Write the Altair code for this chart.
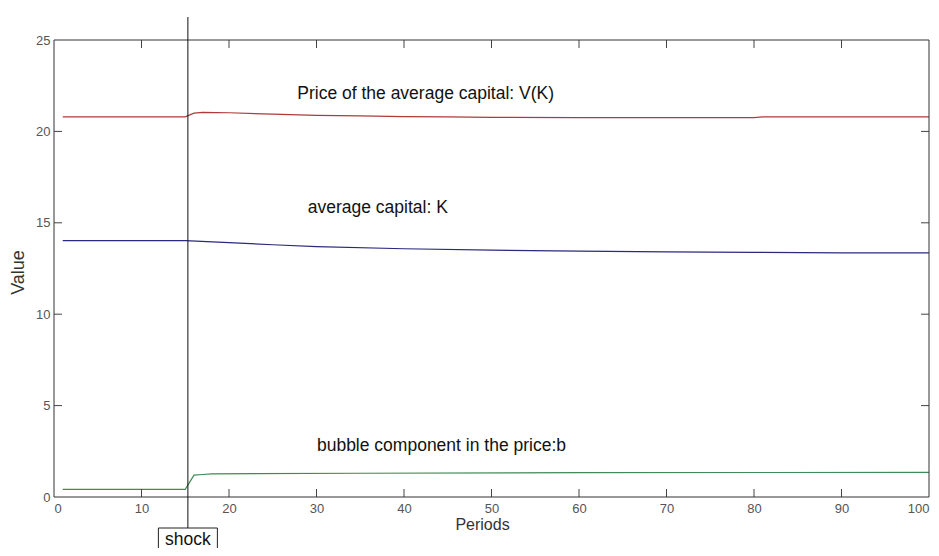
import altair as alt
import pandas as pd

# ---- data ----
red_x = [1, 15, 16, 17, 20, 25, 30, 35, 40, 45, 50, 60, 70, 80, 81, 90, 100]
red_y = [20.80, 20.80, 21.00, 21.04, 21.02, 20.94, 20.88, 20.85, 20.81, 20.79, 20.77, 20.75, 20.75, 20.75, 20.79, 20.79, 20.79]

blue_x = [1, 15, 20, 25, 30, 40, 50, 60, 70, 80, 90, 100]
blue_y = [14.02, 14.02, 13.92, 13.80, 13.70, 13.58, 13.50, 13.45, 13.41, 13.38, 13.36, 13.35]

green_x = [1, 15, 16, 17, 18, 35, 60, 100]
green_y = [0.42, 0.42, 1.20, 1.23, 1.27, 1.30, 1.33, 1.35]

series_names = ["V(K)", "K", "b"]
series_colors = ["#b03a3a", "#2a2a7e", "#3f8a55"]

x_ticks = [10, 20, 30, 40, 50, 60, 70, 80, 90]
y_ticks = [5, 10, 15, 20]
x_labels = [0, 10, 20, 30, 40, 50, 60, 70, 80, 90, 100]
y_labels = [0, 5, 10, 15, 20, 25]

shock_x = [15.3]

ann_text = ["Price of the average capital: V(K)", "average capital: K", "bubble component in the price:b"]
ann_x = [27.8, 29.0, 30.05]
ann_y = [21.77, 15.52, 2.53]

W, H = 875, 457
FONT = "Liberation Sans"

rows = []
for name, xs, ys in zip(series_names, [red_x, blue_x, green_x], [red_y, blue_y, green_y]):
    for xv, yv in zip(xs, ys):
        rows.append({"series": name, "period": xv, "value": yv})
lines_df = pd.DataFrame(rows)

xscale = alt.Scale(domain=[0, 100], nice=False, zero=False)
yscale = alt.Scale(domain=[0, 25], nice=False)

xaxis = alt.Axis(values=x_labels, ticks=False, domain=False, grid=False,
                 labelPadding=5, labelFontSize=13, labelColor="#555555", labelFont=FONT,
                 title="Periods", titleFont=FONT, titleFontSize=16, titleFontWeight="normal",
                 titleColor="#333333", titleX=428, titleY=27, titleBaseline="middle", titleAlign="center")
yaxis = alt.Axis(values=y_labels, ticks=False, domain=False, grid=False,
                 labelPadding=4, labelFontSize=13, labelColor="#555555", labelFont=FONT,
                 title="Value", titleFont=FONT, titleFontSize=18, titleFontWeight="normal",
                 titleColor="#333333", titleX=-36, titleY=232, titleBaseline="middle", titleAlign="center",
                 titleAngle=270)

lines = alt.Chart(lines_df).mark_line(strokeWidth=1.2).encode(
    x=alt.X("period:Q", scale=xscale, axis=xaxis),
    y=alt.Y("value:Q", scale=yscale, axis=yaxis),
    color=alt.Color("series:N", scale=alt.Scale(domain=series_names, range=series_colors), legend=None),
)

xt = pd.DataFrame({"t": x_ticks})
yt = pd.DataFrame({"t": y_ticks})
tick_color = "#444444"
bottom_ticks = alt.Chart(xt).mark_rule(color=tick_color, strokeWidth=1).encode(
    x=alt.X("t:Q", scale=xscale), y=alt.value(H), y2=alt.value(H - 8))
top_ticks = alt.Chart(xt).mark_rule(color=tick_color, strokeWidth=1).encode(
    x=alt.X("t:Q", scale=xscale), y=alt.value(0), y2=alt.value(8))
left_ticks = alt.Chart(yt).mark_rule(color=tick_color, strokeWidth=1).encode(
    y=alt.Y("t:Q", scale=yscale), x=alt.value(0), x2=alt.value(8))
right_ticks = alt.Chart(yt).mark_rule(color=tick_color, strokeWidth=1).encode(
    y=alt.Y("t:Q", scale=yscale), x=alt.value(W), x2=alt.value(W - 8))

sdf = pd.DataFrame({"s": shock_x, "label": ["shock"]})
shock_line = alt.Chart(sdf).mark_rule(color="#111111", strokeWidth=1, clip=False).encode(
    x=alt.X("s:Q", scale=xscale), y=alt.value(-23), y2=alt.value(488))
shock_box = alt.Chart(sdf).mark_rect(fill="white", stroke="#222222", strokeWidth=1, width=59, clip=False).encode(
    x=alt.X("s:Q", scale=xscale), y=alt.value(488), y2=alt.value(530))
shock_text = alt.Chart(sdf).mark_text(font=FONT, fontSize=17.5, color="#111111", baseline="alphabetic",
                                      align="center", clip=False).encode(
    x=alt.X("s:Q", scale=xscale), y=alt.value(505), text="label:N")

adf = pd.DataFrame({"text": ann_text, "x": ann_x, "y": ann_y})
ann = alt.Chart(adf).mark_text(font=FONT, fontSize=17.5, color="#111111", align="left",
                               baseline="alphabetic").encode(
    x=alt.X("x:Q", scale=xscale), y=alt.Y("y:Q", scale=yscale), text="text:N")

frame = alt.Chart(sdf).mark_rect(fill=None, stroke="#333333", strokeWidth=1).encode(
    x=alt.value(0), x2=alt.value(W), y=alt.value(0), y2=alt.value(H))

chart = alt.layer(
    lines, bottom_ticks, top_ticks, left_ticks, right_ticks, ann, frame, shock_line, shock_box, shock_text
).properties(
    width=W, height=H,
    background="white",
    autosize=alt.AutoSizeParams(type="none"),
    padding={"left": 46, "top": 32, "right": 2, "bottom": 51},
).configure_view(
    stroke=None
)

chart.save("out.html", embed_options={"renderer": "svg", "actions": False})
